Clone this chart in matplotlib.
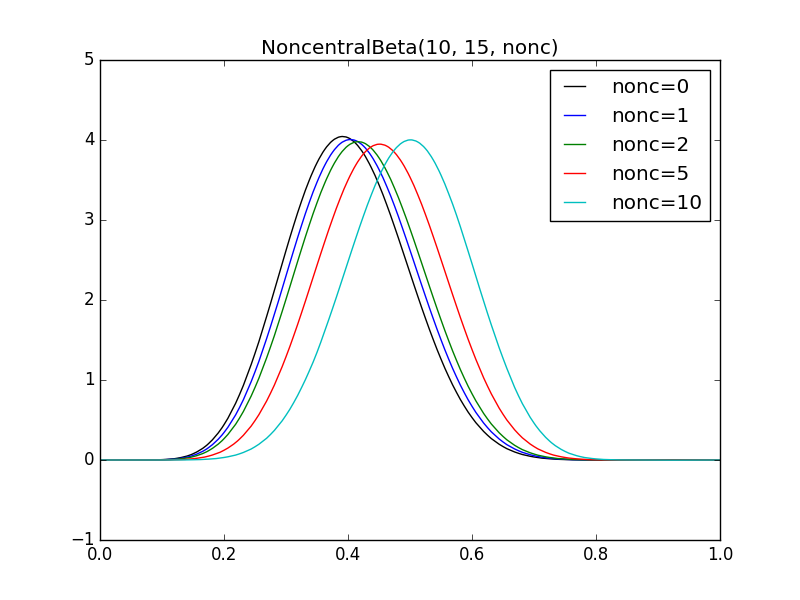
import matplotlib
matplotlib.use('Agg')
import matplotlib.pyplot as plt
from matplotlib.path import Path
from matplotlib.patches import PathPatch
from matplotlib.lines import Line2D

# x positions of the sampled points
x = [0.0, 0.05, 0.075, 0.1, 0.125, 0.15, 0.175, 0.2, 0.225, 0.25, 0.275,
     0.3, 0.3125, 0.325, 0.3375, 0.35, 0.3625, 0.375, 0.3875, 0.4, 0.4125,
     0.425, 0.4375, 0.45, 0.4625, 0.475, 0.4875, 0.5, 0.5125, 0.525, 0.5375,
     0.55, 0.5625, 0.575, 0.5875, 0.6, 0.625, 0.65, 0.675, 0.7, 0.725,
     0.75, 0.775, 0.8, 0.825, 0.85, 1.0]

nonc0 = [0, 0.0000, 0.0005, 0.0045, 0.0225, 0.0775, 0.2043, 0.4416, 0.8174, 1.3331, 1.9555,
         2.6182, 2.9377, 3.2340, 3.4966, 3.7147, 3.8817, 3.9914, 4.0407, 4.0288, 3.9574,
         3.8316, 3.6563, 3.4397, 3.1904, 2.9175, 2.6302, 2.3381, 2.0483, 1.7689, 1.5049,
         1.2612, 1.0407, 0.8453, 0.6753, 0.5306, 0.3104, 0.1681, 0.0837, 0.0379, 0.0154,
         0.0055, 0.0017, 0.0004, 0.0001, 0.0000, 0]
nonc1 = [0, 0.0000, 0.0003, 0.0031, 0.0160, 0.0566, 0.1540, 0.3434, 0.6554, 1.1023, 1.6674,
         2.3020, 2.6228, 2.9318, 3.2187, 3.4722, 3.6841, 3.8464, 3.9545, 4.0026, 3.9920,
         3.9243, 3.8021, 3.6316, 3.4199, 3.1766, 2.9061, 2.6228, 2.3327, 2.0452, 1.7665,
         1.5029, 1.2590, 1.0383, 0.8420, 0.6716, 0.4049, 0.2259, 0.1159, 0.0540, 0.0226,
         0.0083, 0.0026, 0.0007, 0.0001, 0.0000, 0]
nonc2 = [0, 0.0000, 0.0002, 0.0021, 0.0113, 0.0413, 0.1158, 0.2661, 0.5234, 0.9070, 1.4134,
         2.0099, 2.3240, 2.6364, 2.9372, 3.2152, 3.4617, 3.6674, 3.8250, 3.9289, 3.9757,
         3.9653, 3.8977, 3.7770, 3.6083, 3.3985, 3.1555, 2.8889, 2.6063, 2.3179, 2.0306,
         1.7523, 1.4889, 1.2452, 1.0242, 0.8285, 0.5137, 0.2948, 0.1555, 0.0745, 0.0320,
         0.0121, 0.0039, 0.0011, 0.0002, 0.0000, 0]
nonc5 = [0, 0.0000, 0.0001, 0.0007, 0.0040, 0.0159, 0.0486, 0.1218, 0.2609, 0.4923, 0.8345,
         1.2902, 1.5550, 1.8385, 2.1344, 2.4343, 2.7302, 3.0125, 3.2720, 3.4994, 3.6864,
         3.8271, 3.9151, 3.9478, 3.9241, 3.8448, 3.7133, 3.5355, 3.3168, 3.0670, 2.7932,
         2.5056, 2.2126, 1.9230, 1.6435, 1.3813, 0.9241, 0.5720, 0.3253, 0.1680, 0.0777,
         0.0317, 0.0111, 0.0032, 0.0007, 0.0001, 0]
nonc10 = [0, 0.0000, 0.0000, 0.0001, 0.0007, 0.0031, 0.0110, 0.0315, 0.0770, 0.1655, 0.3189,
          0.5597, 0.7179, 0.9033, 1.1121, 1.3455, 1.6130, 1.8913, 2.1819, 2.4780, 2.7709,
          3.0527, 3.3128, 3.5426, 3.7333, 3.8770, 3.9674, 4.0013, 3.9754, 3.8915, 3.7513,
          3.5606, 3.3262, 3.0610, 2.7629, 2.4548, 1.8339, 1.2723, 0.8029, 0.4618, 0.2378,
          0.1078, 0.0419, 0.0136, 0.0035, 0.0007, 0]

series = [('nonc=0', nonc0, 'k'), ('nonc=1', nonc1, 'b'), ('nonc=2', nonc2, 'g'),
          ('nonc=5', nonc5, 'r'), ('nonc=10', nonc10, 'c')]


def smooth_path(xs, ys):
    # cubic Hermite segments through the given points, drawn as Bezier curves
    n = len(xs)
    slopes = []
    for i in range(n):
        if i == 0 or i == n - 1:
            slopes.append(0.0)
            continue
        h0 = xs[i] - xs[i - 1]
        h1 = xs[i + 1] - xs[i]
        d0 = (ys[i] - ys[i - 1]) / h0
        d1 = (ys[i + 1] - ys[i]) / h1
        slopes.append((d0 * h1 + d1 * h0) / (h0 + h1))
    verts = [(xs[0], ys[0])]
    codes = [Path.MOVETO]
    for i in range(n - 1):
        h = xs[i + 1] - xs[i]
        verts.append((xs[i] + h / 3, ys[i] + slopes[i] * h / 3))
        verts.append((xs[i + 1] - h / 3, ys[i + 1] - slopes[i + 1] * h / 3))
        verts.append((xs[i + 1], ys[i + 1]))
        codes += [Path.CURVE4] * 3
    return Path(verts, codes)


plt.style.use('classic')
fig, ax = plt.subplots(figsize=(8, 6))

handles = []
for label, y, col in series:
    ax.add_patch(PathPatch(smooth_path(x, y), facecolor='none', edgecolor=col, lw=1.0))
    handles.append(Line2D([], [], color=col, lw=1.0, label=label))

ax.set_xlim(0, 1)
ax.set_ylim(-1, 5)
ax.set_title('NoncentralBeta(10, 15, nonc)')
ax.legend(handles=handles, loc='upper right', handlelength=1.65, handletextpad=1.0)

fig.savefig('out.png', dpi=100, facecolor='white')
